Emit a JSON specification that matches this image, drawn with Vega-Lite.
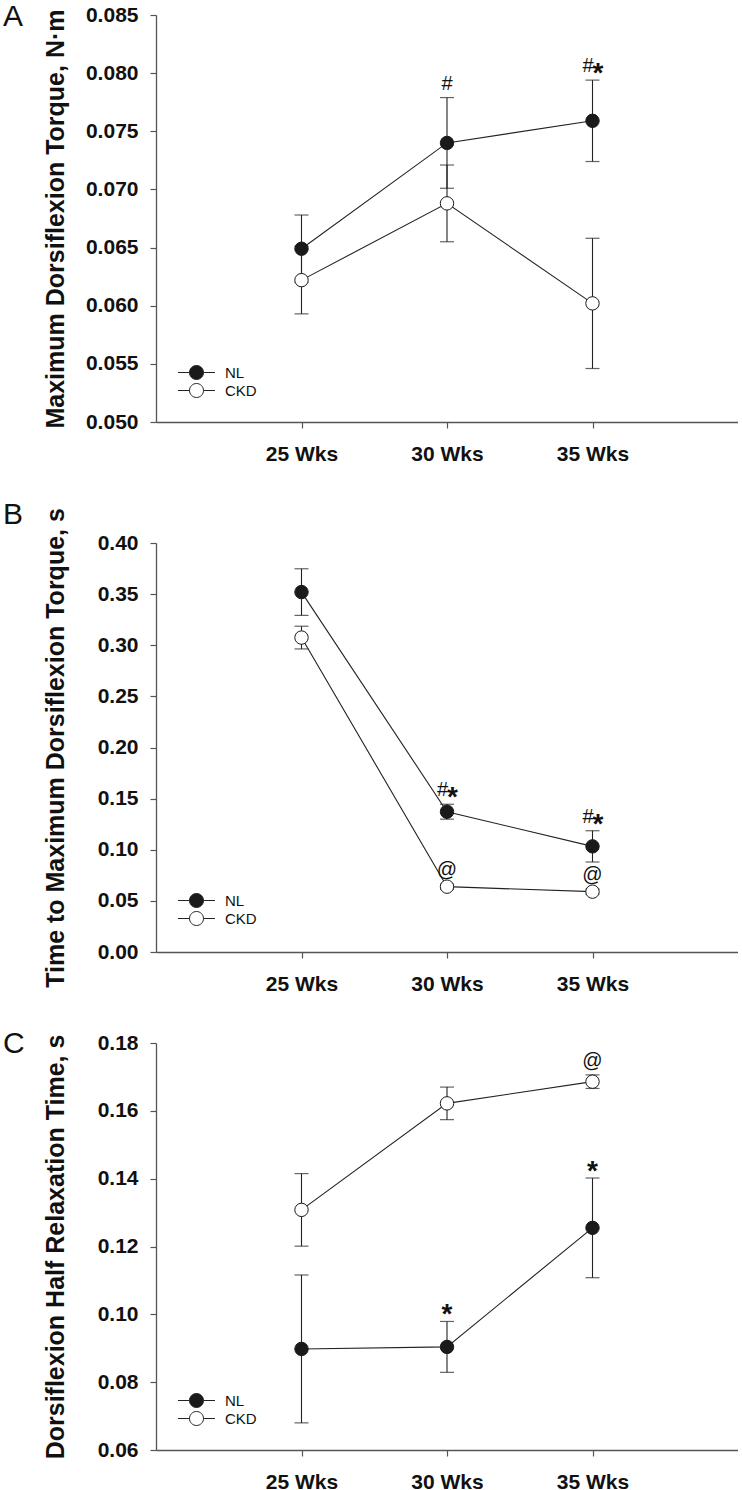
{
  "$schema": "https://vega.github.io/schema/vega-lite/v6.json",
  "padding": {"left": 3, "top": 2, "right": 0, "bottom": 0},
  "background": "white",
  "config": {
    "view": {"stroke": null},
    "font": "Liberation Sans",
    "title": {"anchor": "start", "frame": "group", "orient": "top", "offset": 0, "dx": -153, "baseline": "alphabetic", "fontSize": 30, "fontWeight": "normal", "font": "Liberation Sans", "color": "#111111"},
    "axis": {
      "grid": false,
      "domainColor": "#555555",
      "domainWidth": 1.3,
      "tickColor": "#555555",
      "tickSize": 6,
      "tickWidth": 1.2,
      "labelFont": "Liberation Sans",
      "labelFontWeight": "bold",
      "labelFontSize": 21,
      "labelColor": "#111111",
      "titleFont": "Liberation Sans",
      "titleFontWeight": "bold",
      "titleFontSize": 25,
      "titleColor": "#111111"
    }
  },
  "data": {"values": [
    {"panel": "A", "wk": 25, "group": "NL", "mean": 0.0649, "lo": 0.0620, "hi": 0.0678, "sig": null},
    {"panel": "A", "wk": 30, "group": "NL", "mean": 0.0740, "lo": 0.0701, "hi": 0.0779, "sig": "#"},
    {"panel": "A", "wk": 35, "group": "NL", "mean": 0.0759, "lo": 0.0724, "hi": 0.0794, "sig": "#*"},
    {"panel": "A", "wk": 25, "group": "CKD", "mean": 0.0622, "lo": 0.0593, "hi": 0.0651, "sig": null},
    {"panel": "A", "wk": 30, "group": "CKD", "mean": 0.0688, "lo": 0.0655, "hi": 0.0721, "sig": null},
    {"panel": "A", "wk": 35, "group": "CKD", "mean": 0.0602, "lo": 0.0546, "hi": 0.0658, "sig": null},
    {"panel": "B", "wk": 25, "group": "NL", "mean": 0.352, "lo": 0.3292, "hi": 0.3748, "sig": null},
    {"panel": "B", "wk": 30, "group": "NL", "mean": 0.1372, "lo": 0.1299, "hi": 0.1445, "sig": "#*"},
    {"panel": "B", "wk": 35, "group": "NL", "mean": 0.1033, "lo": 0.0880, "hi": 0.1186, "sig": "#*"},
    {"panel": "B", "wk": 25, "group": "CKD", "mean": 0.3075, "lo": 0.2964, "hi": 0.3186, "sig": null},
    {"panel": "B", "wk": 30, "group": "CKD", "mean": 0.0639, "lo": 0.0614, "hi": 0.0664, "sig": "@"},
    {"panel": "B", "wk": 35, "group": "CKD", "mean": 0.0590, "lo": 0.0565, "hi": 0.0615, "sig": "@"},
    {"panel": "C", "wk": 25, "group": "NL", "mean": 0.0898, "lo": 0.0680, "hi": 0.1116, "sig": null},
    {"panel": "C", "wk": 30, "group": "NL", "mean": 0.0904, "lo": 0.0829, "hi": 0.0979, "sig": "*"},
    {"panel": "C", "wk": 35, "group": "NL", "mean": 0.1255, "lo": 0.1108, "hi": 0.1402, "sig": "*"},
    {"panel": "C", "wk": 25, "group": "CKD", "mean": 0.1308, "lo": 0.1201, "hi": 0.1415, "sig": null},
    {"panel": "C", "wk": 30, "group": "CKD", "mean": 0.1622, "lo": 0.1574, "hi": 0.1670, "sig": null},
    {"panel": "C", "wk": 35, "group": "CKD", "mean": 0.1686, "lo": 0.1666, "hi": 0.1706, "sig": "@"}
  ]},
  "spacing": 121,
  "bounds": "flush",
  "resolve": {"scale": {"fill": "independent"}, "legend": {"fill": "independent"}},
  "vconcat": [
    {
      "title": {"text": "A", "dy": 32},
      "width": 582,
      "height": 407,
      "transform": [{"filter": "datum.panel === 'A'"}],
      "encoding": {
        "x": {"field": "wk", "type": "quantitative", "scale": {"domain": [20, 40], "nice": false, "zero": false},
              "axis": {"title": null, "values": [25, 30, 35], "labelExpr": "datum.value + ' Wks'", "labelPadding": 15, "labelFlush": false}}
      },
      "layer": [
        {"mark": {"type": "line", "color": "#222222", "strokeWidth": 1.1},
         "encoding": {"y": {"field": "mean", "type": "quantitative",
             "scale": {"domain": [0.05, 0.085], "nice": false, "zero": false},
             "axis": {"title": "Maximum Dorsiflexion Torque, N·m", "values": [0.05, 0.055, 0.06, 0.065, 0.07, 0.075, 0.08, 0.085], "format": ".3f", "labelPadding": 12, "titleX": -93, "titleY": 203.5, "titleAngle": -90, "titleBaseline": "alphabetic", "titleAlign": "center"}},
           "detail": {"field": "group"}}},
        {"mark": {"type": "rule", "color": "#222222", "strokeWidth": 1.1},
         "encoding": {"y": {"field": "lo", "type": "quantitative"}, "y2": {"field": "hi"}}},
        {"mark": {"type": "tick", "orient": "horizontal", "size": 14, "thickness": 1.2, "color": "#222222"},
         "encoding": {"y": {"field": "lo", "type": "quantitative"}}},
        {"mark": {"type": "tick", "orient": "horizontal", "size": 14, "thickness": 1.2, "color": "#222222"},
         "encoding": {"y": {"field": "hi", "type": "quantitative"}}},
        {"mark": {"type": "point", "filled": true, "size": 180, "stroke": "#1a1a1a", "strokeWidth": 1, "opacity": 1},
         "encoding": {"y": {"field": "mean", "type": "quantitative"},
           "fill": {"field": "group", "type": "nominal", "scale": {"domain": ["NL", "CKD"], "range": ["#1a1a1a", "#ffffff"]},
             "legend": {"title": null, "orient": "none", "legendX": 33, "legendY": 350, "padding": 0,
               "symbolType": "M-2.64,0L-1,0M1,0L2.64,0M-1,0A1,1,0,1,1,1,0A1,1,0,1,1,-1,0Z",
               "symbolSize": 196, "symbolStrokeColor": "#222222", "symbolStrokeWidth": 1,
               "labelFont": "Liberation Sans", "labelFontSize": 15, "labelColor": "#111111", "labelOffset": 21, "rowPadding": -1}}}},
        {"transform": [{"filter": "datum.sig === '#' || datum.sig === '@'"}],
         "mark": {"type": "text", "font": "Liberation Sans", "fontSize": 20, "color": "#111111", "baseline": "alphabetic", "dy": -8},
         "encoding": {"y": {"field": "hi", "type": "quantitative"}, "text": {"field": "sig"}}},
        {"transform": [{"filter": "datum.sig === '*'"}],
         "mark": {"type": "text", "font": "Liberation Sans", "fontSize": 28, "fontWeight": "bold", "color": "#111111", "baseline": "alphabetic", "dy": 2},
         "encoding": {"y": {"field": "hi", "type": "quantitative"}, "text": {"field": "sig"}}},
        {"transform": [{"filter": "datum.sig === '#*'"}],
         "mark": {"type": "text", "font": "Liberation Sans", "fontSize": 20, "color": "#111111", "baseline": "alphabetic", "align": "right", "dy": -8, "dx": 1},
         "encoding": {"y": {"field": "hi", "type": "quantitative"}, "text": {"value": "#"}}},
        {"transform": [{"filter": "datum.sig === '#*'"}],
         "mark": {"type": "text", "font": "Liberation Sans", "fontSize": 28, "fontWeight": "bold", "color": "#111111", "baseline": "alphabetic", "align": "left", "dy": 2, "dx": 0},
         "encoding": {"y": {"field": "hi", "type": "quantitative"}, "text": {"value": "*"}}}
      ]
    },
    {
      "spacing": 91,
      "bounds": "flush",
      "resolve": {"scale": {"fill": "independent"}, "legend": {"fill": "independent"}},
      "vconcat": [
        {
          "title": {"text": "B", "dy": 26},
          "width": 582,
          "height": 409,
          "transform": [{"filter": "datum.panel === 'B'"}],
          "encoding": {
            "x": {"field": "wk", "type": "quantitative", "scale": {"domain": [20, 40], "nice": false, "zero": false},
                  "axis": {"title": null, "values": [25, 30, 35], "labelExpr": "datum.value + ' Wks'", "labelPadding": 15, "labelFlush": false}}
          },
          "layer": [
            {"mark": {"type": "line", "color": "#222222", "strokeWidth": 1.1},
             "encoding": {"y": {"field": "mean", "type": "quantitative",
                 "scale": {"domain": [0, 0.4], "nice": false, "zero": false},
                 "axis": {"title": "Time to Maximum Dorsiflexion Torque, s", "values": [0, 0.05, 0.1, 0.15, 0.2, 0.25, 0.3, 0.35, 0.4], "format": ".2f", "labelPadding": 12, "titleX": -93, "titleY": 204.5, "titleAngle": -90, "titleBaseline": "alphabetic", "titleAlign": "center"}},
               "detail": {"field": "group"}}},
            {"mark": {"type": "rule", "color": "#222222", "strokeWidth": 1.1},
             "encoding": {"y": {"field": "lo", "type": "quantitative"}, "y2": {"field": "hi"}}},
            {"mark": {"type": "tick", "orient": "horizontal", "size": 14, "thickness": 1.2, "color": "#222222"},
             "encoding": {"y": {"field": "lo", "type": "quantitative"}}},
            {"mark": {"type": "tick", "orient": "horizontal", "size": 14, "thickness": 1.2, "color": "#222222"},
             "encoding": {"y": {"field": "hi", "type": "quantitative"}}},
            {"mark": {"type": "point", "filled": true, "size": 180, "stroke": "#1a1a1a", "strokeWidth": 1, "opacity": 1},
             "encoding": {"y": {"field": "mean", "type": "quantitative"},
               "fill": {"field": "group", "type": "nominal", "scale": {"domain": ["NL", "CKD"], "range": ["#1a1a1a", "#ffffff"]},
                 "legend": {"title": null, "orient": "none", "legendX": 33, "legendY": 350, "padding": 0,
                   "symbolType": "M-2.64,0L-1,0M1,0L2.64,0M-1,0A1,1,0,1,1,1,0A1,1,0,1,1,-1,0Z",
                   "symbolSize": 196, "symbolStrokeColor": "#222222", "symbolStrokeWidth": 1,
                   "labelFont": "Liberation Sans", "labelFontSize": 15, "labelColor": "#111111", "labelOffset": 21, "rowPadding": -1}}}},
            {"transform": [{"filter": "datum.sig === '#' || datum.sig === '@'"}],
             "mark": {"type": "text", "font": "Liberation Sans", "fontSize": 20, "color": "#111111", "baseline": "alphabetic", "dy": -8},
             "encoding": {"y": {"field": "hi", "type": "quantitative"}, "text": {"field": "sig"}}},
            {"transform": [{"filter": "datum.sig === '*'"}],
             "mark": {"type": "text", "font": "Liberation Sans", "fontSize": 28, "fontWeight": "bold", "color": "#111111", "baseline": "alphabetic", "dy": 2},
             "encoding": {"y": {"field": "hi", "type": "quantitative"}, "text": {"field": "sig"}}},
            {"transform": [{"filter": "datum.sig === '#*'"}],
             "mark": {"type": "text", "font": "Liberation Sans", "fontSize": 20, "color": "#111111", "baseline": "alphabetic", "align": "right", "dy": -8, "dx": 1},
             "encoding": {"y": {"field": "hi", "type": "quantitative"}, "text": {"value": "#"}}},
            {"transform": [{"filter": "datum.sig === '#*'"}],
             "mark": {"type": "text", "font": "Liberation Sans", "fontSize": 28, "fontWeight": "bold", "color": "#111111", "baseline": "alphabetic", "align": "left", "dy": 2, "dx": 0},
             "encoding": {"y": {"field": "hi", "type": "quantitative"}, "text": {"value": "*"}}}
          ]
        },
        {
          "title": {"text": "C", "dy": 31},
          "width": 582,
          "height": 407,
          "transform": [{"filter": "datum.panel === 'C'"}],
          "encoding": {
            "x": {"field": "wk", "type": "quantitative", "scale": {"domain": [20, 40], "nice": false, "zero": false},
                  "axis": {"title": null, "values": [25, 30, 35], "labelExpr": "datum.value + ' Wks'", "labelPadding": 15, "labelFlush": false}}
          },
          "layer": [
            {"mark": {"type": "line", "color": "#222222", "strokeWidth": 1.1},
             "encoding": {"y": {"field": "mean", "type": "quantitative",
                 "scale": {"domain": [0.06, 0.18], "nice": false, "zero": false},
                 "axis": {"title": "Dorsiflexion Half Relaxation Time, s", "values": [0.06, 0.08, 0.1, 0.12, 0.14, 0.16, 0.18], "format": ".2f", "labelPadding": 12, "titleX": -93, "titleY": 203.5, "titleAngle": -90, "titleBaseline": "alphabetic", "titleAlign": "center"}},
               "detail": {"field": "group"}}},
            {"mark": {"type": "rule", "color": "#222222", "strokeWidth": 1.1},
             "encoding": {"y": {"field": "lo", "type": "quantitative"}, "y2": {"field": "hi"}}},
            {"mark": {"type": "tick", "orient": "horizontal", "size": 14, "thickness": 1.2, "color": "#222222"},
             "encoding": {"y": {"field": "lo", "type": "quantitative"}}},
            {"mark": {"type": "tick", "orient": "horizontal", "size": 14, "thickness": 1.2, "color": "#222222"},
             "encoding": {"y": {"field": "hi", "type": "quantitative"}}},
            {"mark": {"type": "point", "filled": true, "size": 180, "stroke": "#1a1a1a", "strokeWidth": 1, "opacity": 1},
             "encoding": {"y": {"field": "mean", "type": "quantitative"},
               "fill": {"field": "group", "type": "nominal", "scale": {"domain": ["NL", "CKD"], "range": ["#1a1a1a", "#ffffff"]},
                 "legend": {"title": null, "orient": "none", "legendX": 33, "legendY": 350, "padding": 0,
                   "symbolType": "M-2.64,0L-1,0M1,0L2.64,0M-1,0A1,1,0,1,1,1,0A1,1,0,1,1,-1,0Z",
                   "symbolSize": 196, "symbolStrokeColor": "#222222", "symbolStrokeWidth": 1,
                   "labelFont": "Liberation Sans", "labelFontSize": 15, "labelColor": "#111111", "labelOffset": 21, "rowPadding": -1}}}},
            {"transform": [{"filter": "datum.sig === '#' || datum.sig === '@'"}],
             "mark": {"type": "text", "font": "Liberation Sans", "fontSize": 20, "color": "#111111", "baseline": "alphabetic", "dy": -8},
             "encoding": {"y": {"field": "hi", "type": "quantitative"}, "text": {"field": "sig"}}},
            {"transform": [{"filter": "datum.sig === '*'"}],
             "mark": {"type": "text", "font": "Liberation Sans", "fontSize": 28, "fontWeight": "bold", "color": "#111111", "baseline": "alphabetic", "dy": 2},
             "encoding": {"y": {"field": "hi", "type": "quantitative"}, "text": {"field": "sig"}}},
            {"transform": [{"filter": "datum.sig === '#*'"}],
             "mark": {"type": "text", "font": "Liberation Sans", "fontSize": 20, "color": "#111111", "baseline": "alphabetic", "align": "right", "dy": -8, "dx": 1},
             "encoding": {"y": {"field": "hi", "type": "quantitative"}, "text": {"value": "#"}}},
            {"transform": [{"filter": "datum.sig === '#*'"}],
             "mark": {"type": "text", "font": "Liberation Sans", "fontSize": 28, "fontWeight": "bold", "color": "#111111", "baseline": "alphabetic", "align": "left", "dy": 2, "dx": 0},
             "encoding": {"y": {"field": "hi", "type": "quantitative"}, "text": {"value": "*"}}}
          ]
        }
      ]
    }
  ]
}
